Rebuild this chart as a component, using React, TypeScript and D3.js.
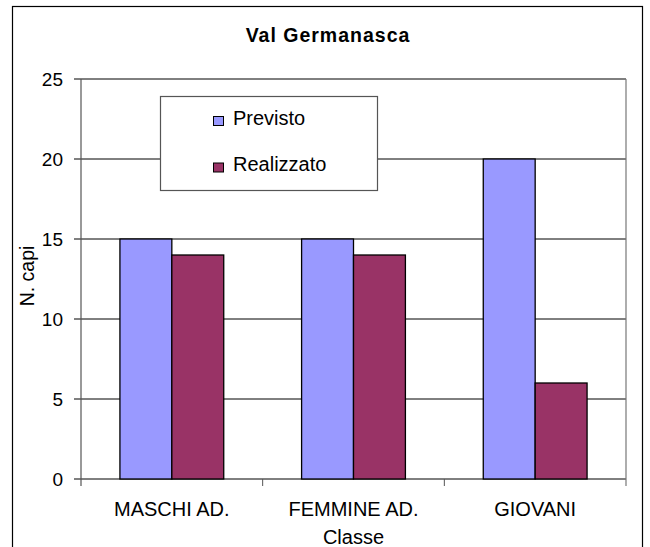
import { useEffect, useRef } from "react";
import * as d3 from "d3";

const categories = ["MASCHI AD.", "FEMMINE AD.", "GIOVANI"];
const previsto = [15, 15, 20];
const realizzato = [14, 14, 6];
const seriesNames = ["Previsto", "Realizzato"];
const yTicks = [0, 5, 10, 15, 20, 25];

const colors = ["#9999ff", "#993366"];
const font = "'Liberation Sans', Arial, sans-serif";

export default function App() {
  const svgRef = useRef<SVGSVGElement>(null);
  const width = 650;
  const height = 547;

  useEffect(() => {
    const svg = d3.select(svgRef.current);
    svg.selectAll("*").remove();

    const margin = { top: 79, right: 24, bottom: 68, left: 81 };
    const w = width - margin.left - margin.right;
    const h = 479 - margin.top;

    // outer chart frame
    svg.append("rect")
      .attr("x", 12.5).attr("y", 6.5)
      .attr("width", 630).attr("height", 560)
      .attr("fill", "#fff").attr("stroke", "#000").attr("stroke-width", 1.2);

    svg.append("text")
      .attr("x", 328).attr("y", 42)
      .attr("text-anchor", "middle")
      .attr("font-family", font).attr("font-size", 19.5).attr("font-weight", "bold")
      .attr("letter-spacing", 1)
      .text("Val Germanasca");

    const g = svg.append("g").attr("transform", `translate(${margin.left},${margin.top})`);

    const x = d3.scaleBand().domain(categories).range([0, w]).paddingInner(0).paddingOuter(0);
    const bw = x.bandwidth() / 3.5;
    const y = d3.scaleLinear().domain([0, 25]).range([h, 0]);

    // gridlines
    g.selectAll(".grid").data(yTicks).enter().append("line")
      .attr("x1", -7).attr("x2", w)
      .attr("y1", (d) => y(d)).attr("y2", (d) => y(d))
      .attr("stroke", "#000").attr("stroke-width", 1);

    g.selectAll(".ylab").data(yTicks).enter().append("text")
      .attr("x", -18).attr("y", (d) => y(d) + 7)
      .attr("text-anchor", "end")
      .attr("font-family", font).attr("font-size", 19)
      .text((d) => d);

    // plot frame
    g.append("line").attr("x1", 0).attr("x2", 0).attr("y1", 0).attr("y2", h + 7)
      .attr("stroke", "#555").attr("stroke-width", 1.2);
    g.append("line").attr("x1", w).attr("x2", w).attr("y1", 0).attr("y2", h + 7)
      .attr("stroke", "#777").attr("stroke-width", 1.2);
    categories.forEach((c, i) => {
      if (i === 0) return;
      g.append("line").attr("x1", x(c)!).attr("x2", x(c)!).attr("y1", h).attr("y2", h + 7)
        .attr("stroke", "#555");
    });

    const series = [previsto, realizzato];
    series.forEach((vals, si) => {
      g.selectAll(".bar" + si).data(vals).enter().append("rect")
        .attr("x", (_, i) => x(categories[i])! + bw * 0.75 + si * bw)
        .attr("y", (d) => y(d))
        .attr("width", bw)
        .attr("height", (d) => h - y(d))
        .attr("fill", colors[si])
        .attr("stroke", "#000").attr("stroke-width", 1.3);
    });

    g.selectAll(".xlab").data(categories).enter().append("text")
      .attr("x", (d) => x(d)! + x.bandwidth() / 2)
      .attr("y", h + 37)
      .attr("text-anchor", "middle")
      .attr("font-family", font).attr("font-size", 20)
      .text((d) => d);

    g.append("text")
      .attr("x", w / 2).attr("y", h + 65)
      .attr("text-anchor", "middle")
      .attr("font-family", font).attr("font-size", 20)
      .text("Classe");

    svg.append("text")
      .attr("transform", `translate(33.5,276) rotate(-90)`)
      .attr("text-anchor", "middle")
      .attr("font-family", font).attr("font-size", 19.5)
      .text("N. capi");

    // legend
    const lg = svg.append("g").attr("transform", "translate(160,96)");
    lg.append("rect").attr("x", 0.5).attr("y", 0.5).attr("width", 217).attr("height", 94)
      .attr("fill", "#fff").attr("stroke", "#555").attr("stroke-width", 1.2);
    seriesNames.forEach((s, i) => {
      lg.append("rect").attr("x", 53.5).attr("y", 20.5 + i * 46.5).attr("width", 10).attr("height", 9)
        .attr("fill", colors[i]).attr("stroke", "#000").attr("stroke-width", 1);
      lg.append("text").attr("x", 73).attr("y", 29 + i * 46)
        .attr("font-family", font).attr("font-size", 20)
        .text(s);
    });
  }, []);

  return (
    <svg ref={svgRef} width={width} height={height}
      style={{ position: "absolute", left: 0, top: 0, background: "#fff" }} />
  );
}
